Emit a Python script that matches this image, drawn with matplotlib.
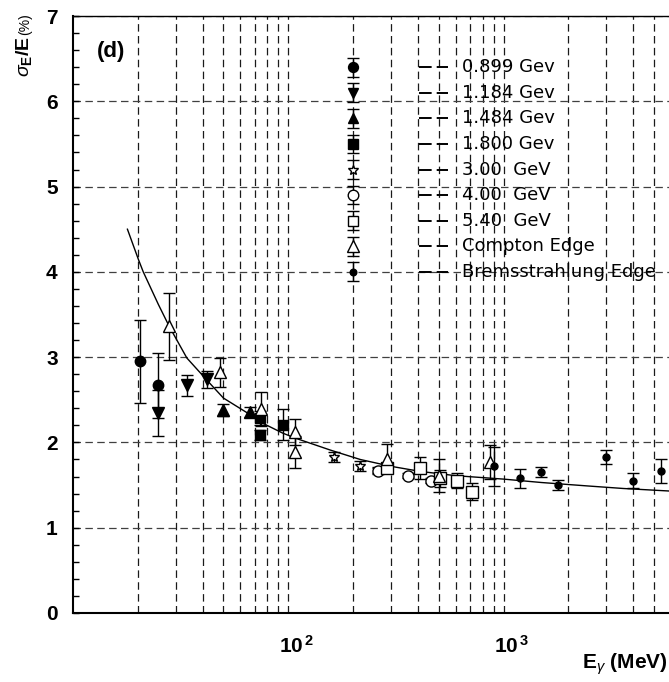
import matplotlib
matplotlib.use('Agg')
import matplotlib.pyplot as plt
import matplotlib.transforms as mtransforms
from matplotlib.ticker import FixedLocator, MultipleLocator, NullFormatter

plt.rcParams['mathtext.fontset'] = 'custom'
plt.rcParams['mathtext.rm'] = 'Liberation Sans'
plt.rcParams['mathtext.bf'] = 'Liberation Sans:bold'
plt.rcParams['mathtext.it'] = 'Liberation Sans:italic'

# photon energy (MeV), resolution (%), error (%) for each beam energy
e_0899 = [20.5, 24.9]
s_0899 = [2.95, 2.67]
d_0899 = [0.49, 0.38]

e_1184 = [24.9, 34.0, 41.9]
s_1184 = [2.34, 2.67, 2.74]
d_1184 = [0.27, 0.12, 0.10]

e_1484 = [50.0, 66.1]
s_1484 = [2.38, 2.36]
d_1484 = [0.07, 0.06]

e_1800 = [74.1, 74.1, 94.1]
s_1800 = [2.29, 2.09, 2.21]
d_1800 = [0.08, 0.06, 0.18]

e_3000 = [163.7, 214.7, 260]
s_3000 = [1.83, 1.72, 1.67]
d_3000 = [0.06, 0.06, 0.04]

e_4000 = [260, 359, 461]
s_4000 = [1.67, 1.61, 1.55]
d_4000 = [0.03, 0.03, 0.03]

e_5400 = [288, 408, 509, 609, 715]
s_5400 = [1.70, 1.70, 1.58, 1.55, 1.42]
d_5400 = [0.05, 0.13, 0.10, 0.09, 0.10]

e_compton = [28.0, 48.3, 74.9, 108, 108, 288, 504, 863]
s_compton = [3.36, 2.82, 2.39, 2.12, 1.89, 1.81, 1.61, 1.77]
d_compton = [0.39, 0.17, 0.20, 0.15, 0.19, 0.17, 0.19, 0.20]

e_brems = [901, 1187, 1486, 1796, 3005, 3990, 5375]
s_brems = [1.72, 1.58, 1.65, 1.50, 1.83, 1.55, 1.66]
d_brems = [0.23, 0.11, 0.06, 0.06, 0.08, 0.09, 0.14]

# fit curve
curve_e = [17.9, 20.1, 21.2, 24.9, 28.0, 33.8, 42.6, 50.0, 66.1, 74.1, 94.1, 108, 157,
           216, 300, 411, 600, 1000, 1500, 2450, 3600, 5916]
curve_s = [4.50, 4.15, 4.00, 3.62, 3.36, 2.99, 2.71, 2.52, 2.33, 2.24, 2.11, 2.05, 1.91,
           1.80, 1.72, 1.66, 1.61, 1.57, 1.53, 1.49, 1.46, 1.43]

labels = ['0.899 Gev', '1.184 Gev', '1.484 Gev', '1.800 Gev', '3.00  GeV',
          '4.00  GeV', '5.40  GeV', 'Compton Edge', 'Bremsstrahlung Edge']

xtick_vals = [100, 1000]
xtick_labels = [r'$\mathbf{10}^{\,\mathbf{2}}$', r'$\mathbf{10}^{\,\mathbf{3}}$']

series = [(e_0899, s_0899, d_0899), (e_1184, s_1184, d_1184), (e_1484, s_1484, d_1484),
          (e_1800, s_1800, d_1800), (e_3000, s_3000, d_3000), (e_4000, s_4000, d_4000),
          (e_5400, s_5400, d_5400), (e_compton, s_compton, d_compton), (e_brems, s_brems, d_brems)]
styles = [('o', 7.5, 'k'), ('v', 8, 'k'), ('^', 8, 'k'), ('s', 7, 'k'), ('*', 7.5, 'w'),
          ('o', 8, 'w'), ('s', 8, 'w'), ('^', 9, 'w'), ('o', 5, 'k')]

fig = plt.figure(figsize=(6.69, 6.82), dpi=100)
ax = fig.add_axes([73/669, 69/682, 598/669, 597/682])
ax.set_xscale('log')
ax.set_xlim(10, 6000)
ax.set_ylim(0, 7)

grid_ls = (0, (6, 3.5))
ax.xaxis.set_major_locator(FixedLocator(xtick_vals))
ax.xaxis.set_minor_locator(FixedLocator([20, 30, 40, 50, 60, 70, 80, 90,
                                         200, 300, 400, 500, 600, 700, 800, 900,
                                         2000, 3000, 4000, 5000]))
ax.xaxis.set_minor_formatter(NullFormatter())
ax.set_xticklabels(xtick_labels)
ax.yaxis.set_major_locator(MultipleLocator(1))
ax.yaxis.set_minor_locator(MultipleLocator(0.2))
ax.grid(True, which='both', axis='x', color='0.1', lw=0.9, ls=grid_ls)
ax.grid(True, which='major', axis='y', color='0.25', lw=0.9, ls=grid_ls)
ax.set_axisbelow(True)

ax.tick_params(axis='x', which='both', length=0, pad=16, labelsize=15)
ax.tick_params(axis='y', which='both', direction='in', length=4.3, width=1,
               pad=11, labelsize=15)
for lab in ax.get_yticklabels():
    lab.set_fontweight('bold')
    lab.set_fontfamily('Liberation Sans')
offset = mtransforms.ScaledTranslation(8/100, 0, fig.dpi_scale_trans)
for lab in ax.get_xticklabels():
    lab.set_transform(lab.get_transform() + offset)

for sp in ['left', 'bottom']:
    ax.spines[sp].set_linewidth(1.5)
ax.spines['top'].set_linewidth(1)
ax.spines['right'].set_visible(False)

ax.plot(curve_e, curve_s, color='k', lw=1, zorder=3)

for (e, s, d), (m, ms, fc) in zip(series, styles):
    ax.errorbar(e, s, yerr=d, fmt=m, ms=ms, mfc=fc, mec='k', mew=1, ecolor='k',
                elinewidth=1, capsize=4, capthick=1, zorder=4)

# legend drawn in data space at E = 200 MeV
leg_x = 200
for i, ((m, ms, fc), lab) in enumerate(zip(styles, labels)):
    y = 6.4 - 0.3 * i
    ax.errorbar([leg_x], [y], yerr=[0.11], fmt=m, ms=ms * 0.95, mfc=fc, mec='k', mew=1,
                ecolor='k', elinewidth=1, capsize=4, capthick=1, zorder=4)
    ax.plot([0.579, 0.627], [y, y], transform=ax.get_yaxis_transform(), color='k',
            lw=1.4, ls=(0, (6.5, 2.6)), zorder=4)
    ax.text(0.650, y, lab, transform=ax.get_yaxis_transform(), fontsize=13,
            family='DejaVu Sans', va='center', ha='left', zorder=5)

ax.text(0.040, 0.940, '(d)', transform=ax.transAxes, fontsize=16, fontweight='bold',
        family='Liberation Sans', va='center', ha='left')

# y label: big sigma_E/E with a smaller (%) above it
fig.text(25/669, 1 - 13/682, '(%)', rotation=90, fontsize=10,
         family='Liberation Sans', ha='center', va='top')
fig.text(24/669, 1 - 36/682, r'$\sigma_{\mathbf{E}}\mathbf{/E}$', rotation=90,
         fontsize=14, family='Liberation Sans', ha='center', va='top')
fig.text(668/669, 1 - 664/682, r'$\mathbf{E}_{\gamma}$ (MeV)', fontsize=15,
         fontweight='bold', family='Liberation Sans', ha='right', va='center')

fig.savefig('out.png', dpi=100)
